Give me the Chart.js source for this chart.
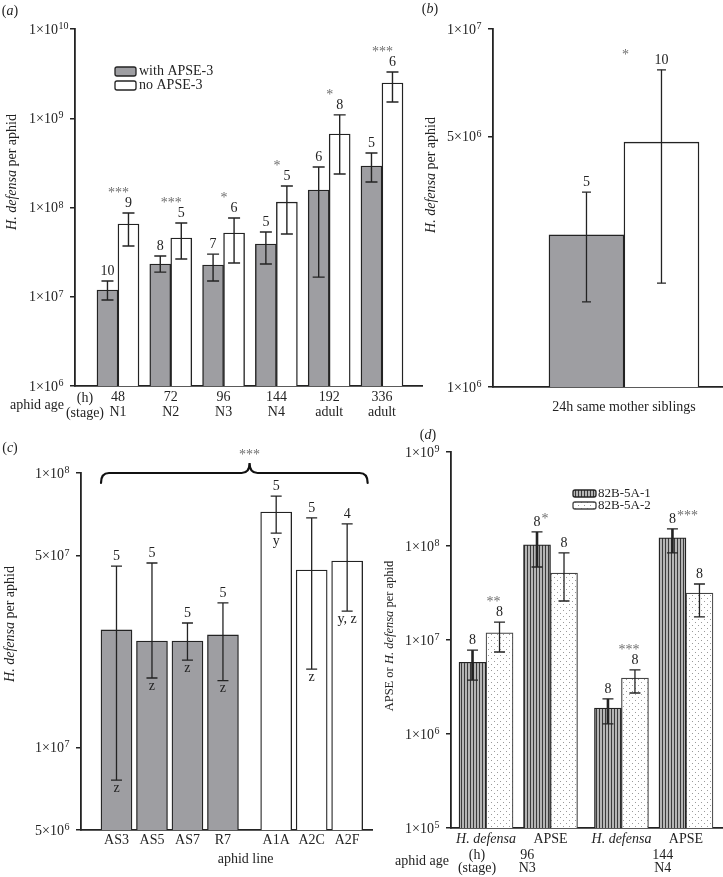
<!DOCTYPE html>
<html>
<head>
<meta charset="utf-8">
<title>H. defensa titres</title>
<script src="https://cdn.jsdelivr.net/npm/chart.js@4.4.1/dist/chart.umd.min.js"></script>
<style>
  body { margin: 0; background: #fff; }
  #fig { position: relative; width: 723px; height: 877px; overflow: hidden; }
  canvas { position: absolute; }
</style>
</head>
<body>
<div id="fig">
  <canvas id="chartA" width="430" height="430" style="left:0;top:0"></canvas>
  <canvas id="chartB" width="313" height="430" style="left:410px;top:0"></canvas>
  <canvas id="chartC" width="380" height="447" style="left:0;top:430px"></canvas>
  <canvas id="chartD" width="343" height="462" style="left:380px;top:415px"></canvas>
</div>
<script>
// (a) titre through development
const ageHours = ['48', '72', '96', '144', '192', '336'];
const ageStages = ['N1', 'N2', 'N3', 'N4', 'adult', 'adult'];
const withApse = [1.19e7, 2.33e7, 2.27e7, 3.9e7, 1.57e8, 2.92e8];
const withApseLow = [9.2e6, 1.89e7, 1.5e7, 2.33e7, 1.66e7, 1.93e8];
const withApseHigh = [1.5e7, 2.86e7, 3.0e7, 5.32e7, 2.84e8, 4.08e8];
const withApseN = [10, 8, 7, 5, 6, 5];
const noApse = [6.53e7, 4.55e7, 5.18e7, 1.15e8, 6.66e8, 2.48e9];
const noApseLow = [3.7e7, 2.65e7, 2.39e7, 5.05e7, 2.37e8, 1.52e9];
const noApseHigh = [8.67e7, 6.7e7, 7.62e7, 1.74e8, 1.09e9, 3.3e9];
const noApseN = [9, 5, 6, 5, 8, 6];
const ageStars = ['***', '***', '*', '*', '*', '***'];
const ageTicks = [1e6, 1e7, 1e8, 1e9, 1e10];

// (b) siblings
const siblingsLabel = '24h same mother siblings';
const siblingsWith = [2.66e6];
const siblingsWithLow = [1.73e6];
const siblingsWithHigh = [3.5e6];
const siblingsWithN = [5];
const siblingsNo = [4.83e6];
const siblingsNoLow = [1.95e6];
const siblingsNoHigh = [7.69e6];
const siblingsNoN = [10];
const siblingsStars = ['*'];
const siblingTicks = [1e6, 5e6, 1e7];

// (c) aphid lines
const apseLines = ['AS3', 'AS5', 'AS7', 'R7'];
const apseLineMean = [2.68e7, 2.44e7, 2.44e7, 2.57e7];
const apseLineLow = [7.6e6, 1.79e7, 2.08e7, 1.75e7];
const apseLineHigh = [4.58e7, 4.7e7, 2.84e7, 3.36e7];
const apseLineN = [5, 5, 5, 5];
const apseLineGroup = ['z', 'z', 'z', 'z'];
const freeLines = ['A1A', 'A2C', 'A2F'];
const freeLineMean = [7.21e7, 4.43e7, 4.78e7];
const freeLineLow = [6.04e7, 1.93e7, 3.14e7];
const freeLineHigh = [8.24e7, 6.86e7, 6.52e7];
const freeLineN = [5, 5, 4];
const freeLineGroup = ['y', 'z', 'y, z'];
const lineTicks = [5e6, 1e7, 5e7, 1e8];

// (d) 82B-5A sublines
const assayTargets = ['H. defensa', 'APSE', 'H. defensa', 'APSE'];
const assayHours = ['96', '144'];
const assayStages = ['N3', 'N4'];
const line1Mean = [5.8e6, 1.03e8, 1.89e6, 1.22e8];
const line1Low = [3.75e6, 5.98e7, 1.28e6, 8.43e7];
const line1High = [7.8e6, 1.41e8, 2.36e6, 1.52e8];
const line1N = [8, 8, 8, 8];
const line1Stars = ['', '*', '', '***'];
const line2Mean = [1.19e7, 5.16e7, 3.94e6, 3.16e7];
const line2Low = [7.45e6, 2.6e7, 2.73e6, 1.76e7];
const line2High = [1.55e7, 8.43e7, 4.8e6, 3.94e7];
const line2N = [8, 8, 8, 8];
const line2Stars = ['**', '', '***', ''];
const assayTicks = [1e5, 1e6, 1e7, 1e8, 1e9];

const SERIF = "'Liberation Serif', 'DejaVu Serif', serif";
const INK = '#232323';
const STAR = '#6e6e6e';
const GREY = '#9e9ea2';

const pts = (xs, ys) => xs.map((x, i) => ({ x: x, y: ys[i] }));

function write(ctx, s, x, y, o = {}) {
    ctx.save();
    ctx.font = (o.italic ? 'italic ' : '') + (o.size || 14) + 'px ' + SERIF;
    ctx.fillStyle = o.color || INK;
    ctx.textAlign = o.align || 'center';
    ctx.textBaseline = o.baseline || 'alphabetic';
    ctx.fillText(s, x, y);
    ctx.restore();
}

// mixed roman / italic text, optionally rotated
function rich(ctx, parts, x, y, size, rotate) {
    ctx.save();
    ctx.translate(x, y);
    if (rotate) ctx.rotate(-Math.PI / 2);
    ctx.textBaseline = 'middle';
    ctx.textAlign = 'left';
    ctx.fillStyle = INK;
    const fonts = parts.map(p => (p[1] ? 'italic ' : '') + size + 'px ' + SERIF);
    const widths = parts.map((p, i) => { ctx.font = fonts[i]; return ctx.measureText(p[0]).width; });
    let cx = -widths.reduce((a, b) => a + b, 0) / 2;
    parts.forEach((p, i) => { ctx.font = fonts[i]; ctx.fillText(p[0], cx, 0); cx += widths[i]; });
    ctx.restore();
}

const tag = (ctx, letter, x, y) => rich(ctx, [['('], [letter, true], [')']], x, y, 14);
const yTitle = [['H. defensa', true], [' per aphid']];

function swatch(ctx, x, y, w, h, fill, stroke) {
    ctx.save();
    ctx.fillStyle = fill;
    ctx.strokeStyle = stroke || INK;
    ctx.lineWidth = 1.3;
    ctx.beginPath();
    ctx.roundRect(x, y, w, h, 2);
    ctx.fill();
    ctx.stroke();
    ctx.restore();
}

function yAxis(ticks, min, max, width) {
    return {
        type: 'logarithmic', min: min, max: max,
        afterBuildTicks: s => { s.ticks = ticks.map(v => ({ value: v })); },
        afterFit: s => { s.width = width; },
        ticks: { display: false, autoSkip: false },
        grid: { drawOnChartArea: false, drawTicks: true, tickLength: 5, color: INK, lineWidth: 1.5 },
        border: { color: INK, width: 1.8 }
    };
}

function xAxis(positions, labels, min, max, height, pad, font) {
    return {
        type: 'linear', min: min, max: max, offset: false,
        afterBuildTicks: s => { s.ticks = positions.map(v => ({ value: v })); },
        afterFit: s => { s.height = height; },
        ticks: {
            autoSkip: false, maxRotation: 0, padding: pad, color: INK,
            font: font || { family: SERIF, size: 14, lineHeight: 1.05 },
            callback: (v, i) => labels[i]
        },
        grid: { display: false, drawTicks: false },
        border: { color: INK, width: 1.8 }
    };
}

function options(padding, scales, err) {
    return {
        responsive: false,
        animation: false,
        events: [],
        layout: { padding: padding },
        scales: scales,
        plugins: { legend: { display: false }, tooltip: { enabled: false }, errorBars: err }
    };
}

// y tick labels as m×10 with a raised exponent, one per log tick
const sciTicks = {
    id: 'sciTicks',
    afterDraw(chart) {
        const ctx = chart.ctx;
        const y = chart.scales.y;
        y.ticks.forEach(t => {
            const py = y.getPixelForValue(t.value);
            const e = Math.floor(Math.log10(t.value) + 1e-9);
            const m = Math.round(t.value / Math.pow(10, e));
            const right = y.right - 17;
            write(ctx, m + '×10', right, py + 4.5, { size: 14, align: 'right' });
            write(ctx, String(e), right + 0.5, py, { size: 10, align: 'left' });
        });
    }
};

// error bars, sample sizes, significance stars and group letters
const errorBars = {
    id: 'errorBars',
    afterDatasetsDraw(chart, args, opts) {
        const ctx = chart.ctx;
        const y = chart.scales.y;
        chart.data.datasets.forEach((ds, di) => {
            chart.getDatasetMeta(di).data.forEach((bar, i) => {
                const lo = y.getPixelForValue(ds.errLow[i]);
                const hi = y.getPixelForValue(ds.errHigh[i]);
                const half = opts.cap / 2;
                ctx.save();
                ctx.strokeStyle = INK;
                ctx.lineWidth = ds.errStem || opts.width;
                ctx.beginPath();
                ctx.moveTo(bar.x, lo);
                ctx.lineTo(bar.x, hi);
                ctx.stroke();
                ctx.lineWidth = opts.width;
                ctx.beginPath();
                ctx.moveTo(bar.x - half, lo); ctx.lineTo(bar.x + half, lo);
                ctx.moveTo(bar.x - half, hi); ctx.lineTo(bar.x + half, hi);
                ctx.stroke();
                ctx.restore();
                const base = hi - 6;
                write(ctx, String(ds.n[i]), bar.x, base);
                const star = ds.stars && ds.stars[i];
                if (star) {
                    const at = ds.starAt;
                    write(ctx, star, bar.x + at.dx, base + at.dy, { color: STAR, align: at.align || 'center' });
                }
                const grp = ds.groups && ds.groups[i];
                if (grp) write(ctx, grp, bar.x, lo + 1, { baseline: 'top' });
            });
        });
    }
};

// ---------- (a) ----------
const ageX = ageHours.map((h, i) => i);
new Chart(document.getElementById('chartA'), {
    type: 'bar',
    data: {
        datasets: [
            {
                label: 'with APSE-3', data: pts(ageX, withApse), backgroundColor: GREY,
                borderColor: INK, borderWidth: 1.4, barThickness: 21,
                errLow: withApseLow, errHigh: withApseHigh, n: withApseN
            },
            {
                label: 'no APSE-3', data: pts(ageX, noApse), backgroundColor: '#fff',
                borderColor: INK, borderWidth: 1.4, barThickness: 21,
                errLow: noApseLow, errHigh: noApseHigh, n: noApseN,
                stars: ageStars, starAt: { dx: -10, dy: -10 }
            }
        ]
    },
    options: options({ top: 29, right: 8, left: 0, bottom: 0 }, {
        x: xAxis(ageX, ageX.map(i => [ageHours[i], ageStages[i]]), -0.814, 5.758, 44, 4),
        y: yAxis(ageTicks, 1e6, 1e10, 75)
    }, { cap: 12, width: 1.4 }),
    plugins: [errorBars, sciTicks, {
        id: 'panelA',
        afterDraw(chart) {
            const ctx = chart.ctx;
            tag(ctx, 'a', 10, 11);
            rich(ctx, yTitle, 12, 172, 14, true);
            swatch(ctx, 115, 67, 21, 9, GREY);
            write(ctx, 'with APSE-3', 139, 71.5, { align: 'left', baseline: 'middle' });
            swatch(ctx, 115, 81, 21, 9, '#fff');
            write(ctx, 'no APSE-3', 139, 85.5, { align: 'left', baseline: 'middle' });
            write(ctx, 'aphid age', 37, 405, { baseline: 'middle' });
            const hx = chart.scales.x.getPixelForValue(ageX[0]) - 33;
            write(ctx, '(h)', hx, 398, { baseline: 'middle' });
            write(ctx, '(stage)', hx, 413, { baseline: 'middle' });
        }
    }]
});

// ---------- (b) ----------
new Chart(document.getElementById('chartB'), {
    type: 'bar',
    data: {
        datasets: [
            {
                label: 'with APSE-3', data: pts([0], siblingsWith), backgroundColor: GREY,
                borderColor: INK, borderWidth: 1.4, barThickness: 75,
                errLow: siblingsWithLow, errHigh: siblingsWithHigh, n: siblingsWithN
            },
            {
                label: 'no APSE-3', data: pts([0], siblingsNo), backgroundColor: '#fff',
                borderColor: INK, borderWidth: 1.4, barThickness: 75,
                errLow: siblingsNoLow, errHigh: siblingsNoHigh, n: siblingsNoN,
                stars: siblingsStars, starAt: { dx: -36, dy: -5 }
            }
        ]
    },
    options: options({ top: 29, right: 0, left: 0, bottom: 0 }, {
        x: xAxis([0], [siblingsLabel], -1, 0.756, 43, 12, { family: SERIF, size: 14 }),
        y: yAxis(siblingTicks, 1e6, 1e7, 83)
    }, { cap: 9, width: 1.3 }),
    plugins: [errorBars, sciTicks, {
        id: 'panelB',
        afterDraw(chart) {
            tag(chart.ctx, 'b', 20, 9);
            rich(chart.ctx, yTitle, 21, 175, 14, true);
        }
    }]
});

// ---------- (c) ----------
const apseX = apseLines.map((l, i) => i);
const freeX = freeLines.map((l, i) => apseLines.length + 0.5 + i);
new Chart(document.getElementById('chartC'), {
    type: 'bar',
    data: {
        datasets: [
            {
                label: 'with APSE', data: pts(apseX, apseLineMean), backgroundColor: GREY,
                borderColor: INK, borderWidth: 1.3, barThickness: 31, grouped: false,
                errLow: apseLineLow, errHigh: apseLineHigh, n: apseLineN, groups: apseLineGroup
            },
            {
                label: 'no APSE', data: pts(freeX, freeLineMean), backgroundColor: '#fff',
                borderColor: INK, borderWidth: 1.3, barThickness: 31, grouped: false,
                errLow: freeLineLow, errHigh: freeLineHigh, n: freeLineN, groups: freeLineGroup
            }
        ]
    },
    options: options({ top: 43, right: 8, left: 0, bottom: 0 }, {
        x: xAxis(apseX.concat(freeX), apseLines.concat(freeLines), -1, 7.2, 47, 3),
        y: yAxis(lineTicks, 5e6, 1e8, 81)
    }, { cap: 11, width: 1.3 }),
    plugins: [errorBars, sciTicks, {
        id: 'panelC',
        afterDraw(chart) {
            const ctx = chart.ctx;
            tag(ctx, 'c', 10, 18);
            rich(ctx, yTitle, 10, 194, 14, true);
            const a = chart.getDatasetMeta(0).data;
            const f = chart.getDatasetMeta(1).data;
            const l = a[0].x - a[0].width / 2;
            const r = f[f.length - 1].x + f[f.length - 1].width / 2 + 5;
            const mid = (a[a.length - 1].x + f[0].x) / 2;
            const t = chart.chartArea.top;
            ctx.save();
            ctx.strokeStyle = '#111';
            ctx.lineWidth = 2.2;
            ctx.lineCap = 'round';
            ctx.beginPath();
            ctx.moveTo(l, t + 10);
            ctx.quadraticCurveTo(l, t, l + 8, t);
            ctx.lineTo(mid - 8, t);
            ctx.quadraticCurveTo(mid, t, mid, t - 10);
            ctx.quadraticCurveTo(mid, t, mid + 8, t);
            ctx.lineTo(r - 8, t);
            ctx.quadraticCurveTo(r, t, r, t + 10);
            ctx.stroke();
            ctx.restore();
            write(ctx, '***', mid, t - 14, { color: STAR });
            write(ctx, 'aphid line', mid - 4, 429, { baseline: 'middle' });
        }
    }]
});

// ---------- (d) ----------
const ctxD = document.getElementById('chartD').getContext('2d');
function makePattern(w, h, paint) {
    const c = document.createElement('canvas');
    c.width = w;
    c.height = h;
    paint(c.getContext('2d'));
    return ctxD.createPattern(c, 'repeat');
}
const stripeFill = makePattern(3, 4, g => {
    g.fillStyle = '#b4b4b4'; g.fillRect(0, 0, 3, 4);
    g.fillStyle = '#3a3a3a'; g.fillRect(0, 0, 1, 4);
});
const dotFill = makePattern(6, 6, g => {
    g.fillStyle = '#fff'; g.fillRect(0, 0, 6, 6);
    g.fillStyle = '#9a9a9a'; g.fillRect(0, 0, 1, 1); g.fillRect(3, 3, 1, 1);
});

const assayX = assayTargets.map((t, i) => i + Math.floor(i / 2) * 0.1);
new Chart(ctxD, {
    type: 'bar',
    data: {
        datasets: [
            {
                label: '82B-5A-1', data: pts(assayX, line1Mean), backgroundColor: stripeFill,
                borderColor: INK, borderWidth: 1.3, barThickness: 27, errStem: 2.6,
                errLow: line1Low, errHigh: line1High, n: line1N,
                stars: line1Stars, starAt: { dx: 4.5, dy: -3, align: 'left' }
            },
            {
                label: '82B-5A-2', data: pts(assayX, line2Mean), backgroundColor: dotFill,
                borderColor: '#444', borderWidth: 1.2, barThickness: 27,
                errLow: line2Low, errHigh: line2High, n: line2N,
                stars: line2Stars, starAt: { dx: -6, dy: -10 }
            }
        ]
    },
    options: options({ top: 37, right: 1, left: 0, bottom: 0 }, {
        x: xAxis(assayX, assayTargets, -0.543, 3.659, 49, 3, c => ({
            family: SERIF, size: 14, style: assayTargets[c.index] === 'H. defensa' ? 'italic' : 'normal'
        })),
        y: yAxis(assayTicks, 1e5, 1e9, 71)
    }, { cap: 11, width: 1.3 }),
    plugins: [errorBars, sciTicks, {
        id: 'panelD',
        afterDraw(chart) {
            const ctx = chart.ctx;
            const x = chart.scales.x;
            tag(ctx, 'd', 48, 20.5);
            rich(ctx, [['APSE or '], ['H. defensa', true], [' per aphid']], 10, 221, 12.5, true);
            swatch(ctx, 193, 75, 23, 7, stripeFill);
            write(ctx, '82B-5A-1', 218, 79, { align: 'left', baseline: 'middle', size: 13 });
            swatch(ctx, 193, 87, 23, 7, dotFill, '#444');
            write(ctx, '82B-5A-2', 218, 91, { align: 'left', baseline: 'middle', size: 13 });
            write(ctx, 'aphid age', 42, 446, { baseline: 'middle' });
            write(ctx, '(h)', 97, 440, { baseline: 'middle' });
            write(ctx, '(stage)', 97, 453, { baseline: 'middle' });
            assayHours.forEach((h, b) => {
                const cx = (x.getPixelForValue(assayX[2 * b]) + x.getPixelForValue(assayX[2 * b + 1])) / 2 + 9;
                write(ctx, h, cx, 440, { baseline: 'middle' });
                write(ctx, assayStages[b], cx, 453, { baseline: 'middle' });
            });
        }
    }]
});
</script>
</body>
</html>
